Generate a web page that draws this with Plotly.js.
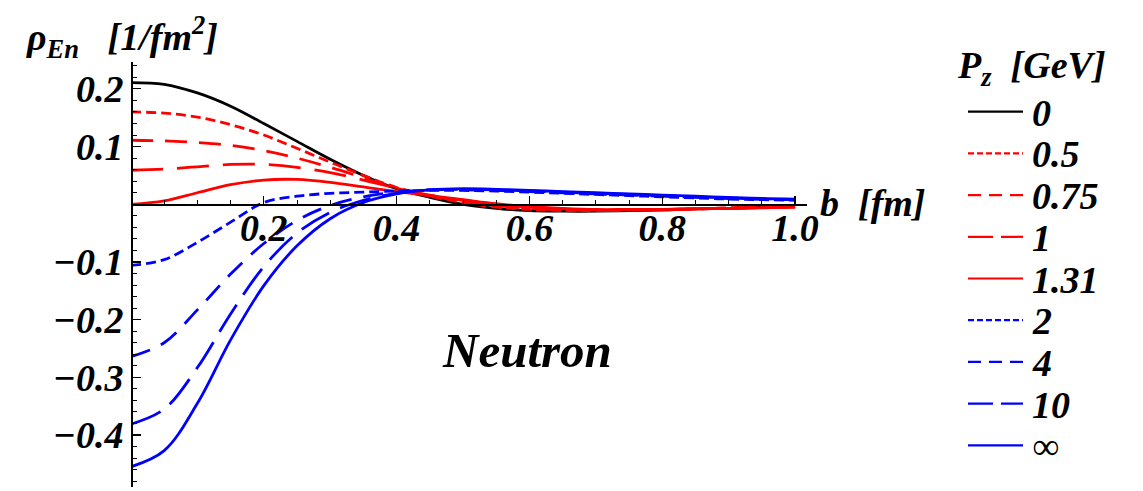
<!DOCTYPE html>
<html><head><meta charset="utf-8">
<script src="https://cdn.plot.ly/plotly-3.0.1.min.js"></script>
<style>html,body{margin:0;padding:0;background:#fff;}</style>
</head><body><div id="chart" style="width:1143px;height:491px;"></div>
<script>
// ---- data ----
const b = [0,0.05,0.1,0.15,0.2,0.25,0.3,0.35,0.4,0.45,0.5,0.55,0.6,0.65,0.7,0.75,0.8,0.85,0.9,0.95,1.0];
const rho_Pz0    = [0.211,0.208,0.193,0.170,0.140,0.109,0.078,0.050,0.027,0.012,0.000,-0.007,-0.011,-0.012,-0.012,-0.011,-0.010,-0.008,-0.007,-0.005,-0.004];
const rho_Pz0_5  = [0.160,0.158,0.151,0.138,0.120,0.097,0.073,0.050,0.029,0.014,0.003,-0.005,-0.009,-0.011,-0.011,-0.010,-0.009,-0.008,-0.006,-0.005,-0.004];
const rho_Pz0_75 = [0.111,0.110,0.107,0.102,0.093,0.080,0.064,0.046,0.028,0.015,0.005,-0.002,-0.007,-0.010,-0.011,-0.010,-0.009,-0.008,-0.007,-0.005,-0.004];
const rho_Pz1    = [0.059,0.061,0.065,0.069,0.069,0.064,0.055,0.042,0.028,0.016,0.007,0.000,-0.005,-0.008,-0.010,-0.010,-0.009,-0.008,-0.007,-0.006,-0.005];
const rho_Pz1_31 = [0.000,0.006,0.020,0.034,0.042,0.043,0.038,0.030,0.022,0.015,0.008,0.001,-0.004,-0.007,-0.009,-0.009,-0.009,-0.008,-0.007,-0.006,-0.005];
const rho_Pz2    = [-0.106,-0.096,-0.066,-0.031,0.003,0.014,0.019,0.021,0.023,0.024,0.024,0.023,0.021,0.019,0.017,0.015,0.013,0.011,0.009,0.008,0.007];
const rho_Pz4    = [-0.264,-0.240,-0.183,-0.121,-0.068,-0.028,-0.002,0.013,0.021,0.025,0.025,0.024,0.022,0.020,0.018,0.016,0.014,0.012,0.010,0.009,0.008];
const rho_Pz10   = [-0.381,-0.355,-0.283,-0.190,-0.108,-0.050,-0.014,0.007,0.019,0.025,0.026,0.025,0.023,0.021,0.019,0.017,0.015,0.013,0.011,0.009,0.008];
const rho_PzInf  = [-0.455,-0.427,-0.345,-0.235,-0.141,-0.072,-0.025,0.003,0.018,0.025,0.027,0.026,0.024,0.022,0.020,0.018,0.016,0.014,0.012,0.010,0.009];
const pzLabels = ['0','0.5','0.75','1','1.31','2','4','10','∞'];
const xTickVals = [0.2,0.4,0.6,0.8,1.0];
const xTickText = ['0.2','0.4','0.6','0.8','1.0'];
const yTickVals = [0.2,0.1,-0.1,-0.2,-0.3,-0.4];
const yTickText = ['0.2','0.1','−0.1','−0.2','−0.3','−0.4'];

// ---- styles ----
const series = [rho_Pz0,rho_Pz0_5,rho_Pz0_75,rho_Pz1,rho_Pz1_31,rho_Pz2,rho_Pz4,rho_Pz10,rho_PzInf];
const colors = ['#000000','#ff0000','#ff0000','#ff0000','#ff0000','#0000ff','#0000ff','#0000ff','#0000ff'];
const dashes = ['solid','10px,5px','22px,12px','32px,14px','solid','10px,5px','20px,12px','32px,12px','solid'];
const legDashes = ['solid','6px,3px','13px,8px','25px,8px','solid','6px,3px','13px,8px','25px,8px','solid'];

const W = 1143, H = 491;
const fx = p => p / W, fy = p => 1 - p / H;
const serif = "'Liberation Serif', 'Times New Roman', Times, serif";
const tfont = {family: serif, size: 38, color: '#000', weight: 'bold', style: 'italic'};

const traces = series.map((s, i) => ({
  x: b, y: s, type: 'scatter', mode: 'lines', name: pzLabels[i],
  line: {color: colors[i], width: 2.8, dash: dashes[i], shape: 'spline', smoothing: 1},
  hoverinfo: 'skip', showlegend: false
}));

const shapes = [], annotations = [];
const legTop = 111.7, legStep = 41.7;
pzLabels.forEach((lab, i) => {
  const yy = legTop + i * legStep;
  shapes.push({type: 'line', xref: 'paper', yref: 'paper', x0: fx(968), x1: fx(1023), y0: fy(yy), y1: fy(yy),
    line: {color: colors[i], width: 2.2, dash: legDashes[i]}});
  annotations.push({xref: 'paper', yref: 'paper', x: fx(1030), y: fy(yy + 1), xanchor: 'left', yanchor: 'middle',
    text: lab, showarrow: false, font: tfont});
});
annotations.push({xref: 'paper', yref: 'paper', x: fx(955), y: fy(68), xanchor: 'left', yanchor: 'middle',
  text: 'P<sub>z</sub>&nbsp;&nbsp;[GeV]', showarrow: false, font: tfont});
annotations.push({xref: 'paper', yref: 'paper', x: fx(24), y: fy(37), xanchor: 'left', yanchor: 'middle',
  text: 'ρ<sub>En</sub>&nbsp;&nbsp;&nbsp;[1/fm<sup>2</sup>]', showarrow: false, font: tfont});
annotations.push({xref: 'paper', yref: 'paper', x: fx(818), y: fy(203), xanchor: 'left', yanchor: 'middle',
  text: 'b&nbsp;&nbsp;[fm]', showarrow: false, font: tfont});
annotations.push({xref: 'paper', yref: 'paper', x: fx(527), y: fy(350), xanchor: 'center', yanchor: 'middle',
  text: 'Neutron', showarrow: false, font: Object.assign({}, tfont, {size: 49})});

const layout = {
  width: W, height: H, margin: {l: 0, r: 0, t: 0, b: 0},
  paper_bgcolor: '#fff', plot_bgcolor: 'rgba(0,0,0,0)', showlegend: false,
  xaxis: {domain: [fx(131), fx(807)], range: [0, 1.018], anchor: 'free', position: fy(204.3), side: 'top',
    showline: true, linecolor: '#000', linewidth: 1.5, zeroline: false, showgrid: false,
    tickmode: 'array', tickvals: xTickVals, ticktext: xTickText, ticks: 'outside', ticklen: 8, tickwidth: 1.2, tickcolor: '#000',
    ticklabelposition: 'inside', ticklabeloverflow: 'allow', ticklabelstandoff: 13,
    tickfont: tfont, minor: {tickmode: 'linear', tick0: 0, dtick: 0.05, ticks: 'outside', ticklen: 4, tickwidth: 1, tickcolor: '#000'}},
  yaxis: {domain: [1 - 487 / H, 1 - 62 / H], range: [-0.49, 0.2466], anchor: 'free', position: fx(131),
    showline: true, linecolor: '#000', linewidth: 1.5, zeroline: false, showgrid: false,
    tickmode: 'array', tickvals: yTickVals, ticktext: yTickText, ticks: 'inside', ticklen: 8, tickwidth: 1.2, tickcolor: '#000',
    tickfont: tfont, minor: {tickmode: 'linear', tick0: 0, dtick: 0.02, ticks: 'inside', ticklen: 4, tickwidth: 1, tickcolor: '#000'}},
  shapes: shapes, annotations: annotations
};
Plotly.newPlot('chart', traces, layout, {displayModeBar: false, staticPlot: true});
</script></body></html>
